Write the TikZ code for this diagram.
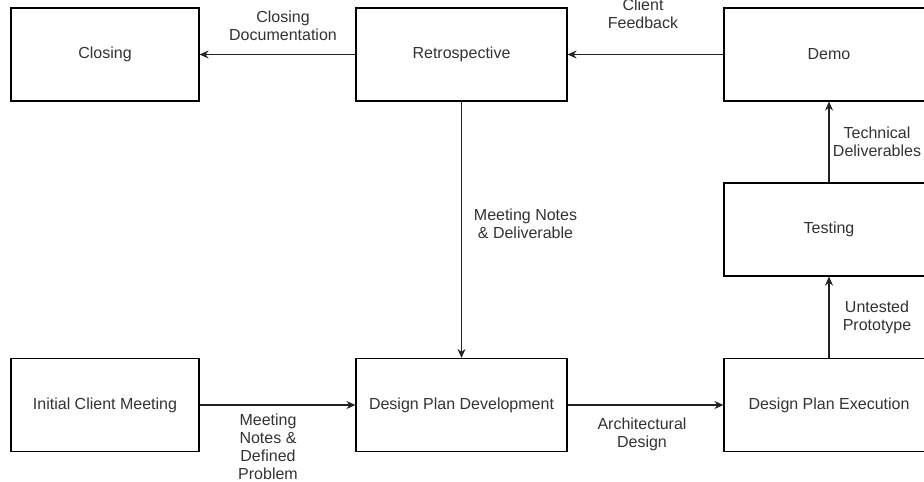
\documentclass[tikz,border=0pt]{standalone}
\usepackage{fontspec}
\setmainfont{Liberation Sans}
\usetikzlibrary{arrows.meta}
\definecolor{ink}{HTML}{333333}
\definecolor{wire}{HTML}{222222}
\begin{document}
\begin{tikzpicture}[x=1pt,y=-1pt,
  stage/.style={draw=black, line width=1.2pt, minimum height=93pt, inner sep=0pt,
    text=ink, font=\fontsize{16}{18}\selectfont},
  flow/.style={draw=wire, line width=1.1pt, -{Stealth[length=9pt,width=8pt,inset=3pt]}},
  note/.style={align=center, inner sep=0pt, text=ink, font=\fontsize{16}{18}\selectfont}]
\useasboundingbox (0,0) rectangle (924,482);
\fill[white] (0,0) rectangle (924,482);
\clip (0,0) rectangle (924,482);

% process stages
\node[stage, minimum width=188pt] (closing) at (105,54.5) {Closing};
\node[stage, minimum width=211pt] (retro)   at (461.5,54.5) {Retrospective};
\node[stage, minimum width=210pt] (demo)    at (829,54.5) {Demo};
\node[stage, minimum width=210pt] (testing) at (829,229.5) {Testing};
\node[stage, minimum width=188pt] (initial) at (105,405) {Initial Client Meeting};
\node[stage, minimum width=211pt] (devel)   at (461.5,405) {Design Plan Development};
\node[stage, minimum width=210pt] (exec)    at (829,405) {Design Plan Execution};

% hand-offs between stages
\draw[flow] (initial) -- (devel);
\draw[flow] (devel) -- (exec);
\draw[flow] (exec) -- (testing);
\draw[flow] (testing) -- (demo);
\draw[flow] (demo) -- (retro);
\draw[flow] (retro) -- (closing);
\draw[flow] (retro) -- (devel);

% what each hand-off carries
\node[note] (lclose) at (283,26)    {Closing\\Documentation};
\node[note] (lfeed)  at (643,14)    {Client\\Feedback};
\node[note] (ltech)  at (877,142)   {Technical\\Deliverables};
\node[note] (lmeet)  at (525.5,224) {Meeting Notes\\\& Deliverable};
\node[note] (lproto) at (877,317)   {Untested\\Prototype};
\node[note] (ldef)   at (268,446.5) {Meeting\\Notes \&\\Defined\\Problem};
\node[note] (larch)  at (642,434)   {Architectural\\Design};
\end{tikzpicture}
\end{document}
